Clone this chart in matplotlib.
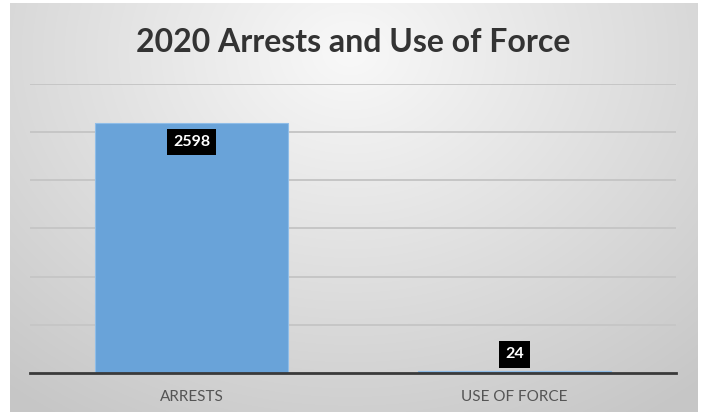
import numpy as np
import matplotlib.pyplot as plt

plt.rcParams['font.family'] = ['Lato', 'DejaVu Sans']

categorias = ['ARRESTS', 'USE OF FORCE']
valores = [2598, 24]
titulo = '2020 Arrests and Use of Force'

W, H = 702, 415
fig = plt.figure(figsize=(W / 100, H / 100), dpi=100, facecolor='white')

# fundo com gradiente radial cinza
bg = fig.add_axes([10 / W, 3 / H, 688 / W, 409 / H])
yy, xx = np.mgrid[0:409, 0:688]
dist = np.sqrt(((xx - 340) / 520) ** 2 + ((yy - 50) / 420) ** 2)
tom = np.clip(0.975 - 0.19 * dist, 0.78, 0.975)
bg.imshow(np.dstack([tom, tom, tom]), aspect='auto', interpolation='bilinear')
bg.axis('off')

ax = fig.add_axes([30 / W, (H - 373) / H, 646 / W, 289 / H])
ax.patch.set_alpha(0)
x = np.arange(len(categorias))
ax.bar(x, valores, width=0.6, color='#69a3d9', edgecolor='#8fbde8', linewidth=0.8, zorder=3)
ax.set_xlim(-0.5, 1.5)
ax.set_ylim(0, 3000)
ax.set_yticks(np.arange(0, 3001, 500))
ax.yaxis.grid(True, color='#c6c6c6', linewidth=1.4, zorder=0)
ax.set_yticklabels([])
ax.tick_params(axis='y', length=0)
ax.tick_params(axis='x', length=0, pad=12, labelsize=11, labelcolor='#555555')
ax.set_xticks(x)
ax.set_xticklabels(categorias)
for s in ['top', 'right', 'left']:
    ax.spines[s].set_visible(False)
ax.spines['bottom'].set_color('#3a3a3a')
ax.spines['bottom'].set_linewidth(2)
ax.spines['bottom'].set_zorder(4)

for xi, v in zip(x, valores):
    y_txt = v - 200 if v > 500 else v + 170
    ax.text(xi, y_txt, str(v), ha='center', va='center', color='white',
            fontsize=11.5, fontweight='bold', zorder=5,
            bbox=dict(boxstyle='square,pad=0.4', fc='black', ec='none'))

fig.text(353 / W, 1 - 42 / H, titulo, ha='center', va='center',
         fontsize=23, fontweight='bold', color='#333333')

fig.savefig('out.png', dpi=100)
